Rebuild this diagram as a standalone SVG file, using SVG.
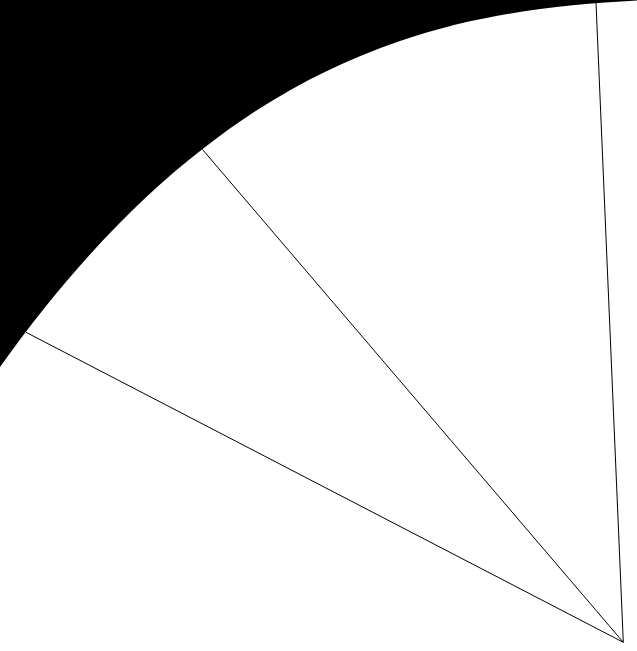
<svg xmlns="http://www.w3.org/2000/svg" width="637" height="651" viewBox="0 0 637 651">
  <style>
    .ray { stroke: #000; stroke-width: 1; fill: none; }
  </style>
  <rect x="0" y="0" width="637" height="651" fill="#fff"/>
  <g id="outside">
    <path d="M0,0 L637,0 L637,0.5 C558,4.5 479,14.1 400,41 C334,63.4 268,97.5 202.3,149.3 C135,201.3 67,273.2 0,367 Z" fill="#000"/>
  </g>
  <g id="rays">
    <line class="ray" x1="623.3" y1="642.3" x2="596" y2="2.7"/>
    <line class="ray" x1="623.3" y1="642.3" x2="202.3" y2="149.3"/>
    <line class="ray" x1="623.3" y1="642.3" x2="26" y2="332.3"/>
  </g>
</svg>
